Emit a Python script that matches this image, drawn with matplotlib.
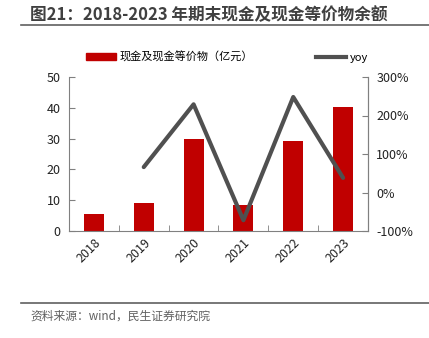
import numpy as np
import matplotlib.pyplot as plt
from matplotlib.lines import Line2D
from matplotlib.patches import Patch

plt.rcParams['font.family'] = ['Noto Sans CJK SC', 'DejaVu Sans']

years = ['2018', '2019', '2020', '2021', '2022', '2023']
cash = [5.4, 9.1, 30.0, 8.4, 29.1, 40.2]
yoy_years = ['2019', '2020', '2021', '2022', '2023']
yoy = [66, 229, -72, 248, 38]

title = '图21：2018-2023 年期末现金及现金等价物余额'
source = '资料来源：wind，民生证券研究院'

fig = plt.figure(figsize=(4.29, 3.38), dpi=100)
W, H = 429, 338
ax = fig.add_axes([69 / W, 1 - 231 / H, (368 - 69) / W, (231 - 77) / H])

x = np.arange(len(years))
ax.bar(x, cash, width=0.4, color='#C00000', zorder=2)
ax.set_xlim(-0.5, len(years) - 0.5)
ax.set_ylim(0, 50)
ax.set_yticks([0, 10, 20, 30, 40, 50])
ax.set_xticks(x)
ax.set_xticklabels(years, rotation=45, ha='right', va='top', rotation_mode='anchor')
ax.set_xticks(np.arange(len(years) - 1) + 0.5, minor=True)

ax2 = ax.twinx()
xi = [years.index(y) for y in yoy_years]
ax2.plot(xi, yoy, color='#505050', lw=3, solid_capstyle='round', zorder=3)
ax2.set_ylim(-100, 300)
ax2.set_yticks([-100, 0, 100, 200, 300])
ax2.set_yticklabels([f'{v}%' for v in [-100, 0, 100, 200, 300]])

for a in (ax, ax2):
    a.spines['top'].set_visible(False)
    for s in ('left', 'right', 'bottom'):
        a.spines[s].set_color('#808080')
        a.spines[s].set_linewidth(0.8)
    a.tick_params(labelsize=9, colors='#222222')
ax.tick_params(axis='y', direction='in', length=4, color='#808080', pad=6)
ax2.tick_params(axis='y', direction='in', length=4, color='#808080', pad=6)
ax.tick_params(axis='x', which='major', length=0, pad=4)
ax.tick_params(axis='x', which='minor', direction='in', length=4, color='#808080')
ax2.spines['left'].set_visible(False)
ax2.spines['bottom'].set_visible(False)

handles = [Patch(color='#C00000'), Line2D([], [], color='#505050', lw=3)]
fig.legend(handles, ['现金及现金等价物（亿元）', 'yoy'], loc='center',
           bbox_to_anchor=(227 / W, 1 - 57 / H), ncol=2, frameon=False,
           fontsize=8, handlelength=2.7, handleheight=0.6, columnspacing=5.6,
           handletextpad=0.35, borderpad=0)

fig.text(30 / W, 1 - 15 / H, title, fontsize=12, fontweight='bold',
         color='#404040', va='center', ha='left')
fig.add_artist(Line2D([21 / W, 1], [1 - 25 / H, 1 - 25 / H], color='#606060', lw=1.2))
fig.add_artist(Line2D([21 / W, 1], [1 - 303 / H, 1 - 303 / H], color='#606060', lw=1.2))
fig.text(30 / W, 1 - 316 / H, source, fontsize=8.5, color='#606060', va='center', ha='left')

fig.savefig('out.png', dpi=100)
